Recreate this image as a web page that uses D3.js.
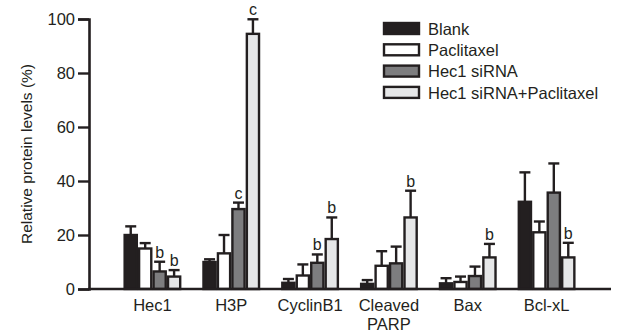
<!DOCTYPE html>
<html lang="en">
<head>
<meta charset="utf-8">
<title>Relative protein levels</title>
<script src="https://cdnjs.cloudflare.com/ajax/libs/d3/7.8.5/d3.min.js"></script>
<style>
  body { margin: 0; background: #fff; }
  text { font-family: "Liberation Sans", Arial, sans-serif; fill: #231f20; }
</style>
</head>
<body>
<script>
// proteins on the x axis (second line of label after "|")
var categories = ["Hec1", "H3P", "CyclinB1", "Cleaved|PARP", "Bax", "Bcl-xL"];
var groups = ["Blank", "Paclitaxel", "Hec1 siRNA", "Hec1 siRNA+Paclitaxel"];

// mean values per group, one entry per category
var blank      = [20, 10, 2.3, 1.9, 2.1, 32.3];
var paclitaxel = [15, 13.2, 5, 8.6, 2.6, 21];
var hec1si     = [6.5, 29.6, 9.7, 9.5, 4.8, 35.7];
var hec1siPac  = [4.6, 94.5, 18.5, 26.5, 11.7, 11.7];

// error (upper) per group
var blankErr      = [3.2, 1, 1.4, 1.4, 1.9, 10.9];
var paclitaxelErr = [2, 6.8, 4.1, 5.4, 2, 4];
var hec1siErr     = [3.6, 2.4, 3.1, 6.2, 3.5, 10.8];
var hec1siPacErr  = [2.4, 5.4, 8, 9.9, 5, 5.4];

// significance letters ("" = none)
var hec1siSig    = ["b", "c", "b", "", "", ""];
var hec1siPacSig = ["b", "c", "b", "b", "b", "b"];

var yTicks = [0, 20, 40, 60, 80, 100];
var colors = ["#231f20", "#ffffff", "#7d7d7f", "#e6e7e8"];

var values = [blank, paclitaxel, hec1si, hec1siPac];
var errs = [blankErr, paclitaxelErr, hec1siErr, hec1siPacErr];
var sigs = [["", "", "", "", "", ""], ["", "", "", "", "", ""], hec1siSig, hec1siPacSig];

var w = 619, h = 335;
var ink = "#231f20";

var svg = d3.select("body").append("svg")
  .attr("width", w)
  .attr("height", h);

var y = d3.scaleLinear().domain([0, 100]).range([289, 19]);
var x = d3.scaleBand().domain(categories).range([113, 586]).paddingInner(0.27).paddingOuter(0.135);
var xs = d3.scaleBand().domain(d3.range(groups.length)).range([0, x.bandwidth()]).paddingInner(0.02);

// y axis
var yAxis = svg.append("g")
  .attr("transform", "translate(89,0)")
  .call(d3.axisLeft(y).tickValues(yTicks).tickSize(11).tickPadding(3));
yAxis.select(".domain").attr("stroke", ink).attr("stroke-width", 2.6);
yAxis.selectAll(".tick line").attr("stroke", ink).attr("stroke-width", 2.4);
yAxis.selectAll(".tick text").attr("font-size", "16.5px").attr("fill", ink)
  .attr("font-family", "Liberation Sans, Arial, sans-serif");

svg.append("text")
  .attr("transform", "translate(27," + y(50) + ") rotate(-90)")
  .attr("text-anchor", "middle")
  .attr("dy", "0.35em")
  .attr("font-size", "15.5px")
  .text("Relative protein levels (%)");

// bars
categories.forEach(function(c, ci) {
  var g = svg.append("g").attr("transform", "translate(" + x(c) + ",0)");
  groups.forEach(function(gr, gi) {
    var v = values[gi][ci], e = errs[gi][ci];
    var bx = xs(gi), bw = xs.bandwidth();
    var cx = bx + bw / 2;
    // error bar
    g.append("line")
      .attr("x1", cx).attr("x2", cx)
      .attr("y1", y(v)).attr("y2", y(v + e))
      .attr("stroke", ink).attr("stroke-width", 2.4);
    g.append("line")
      .attr("x1", cx - 5.5).attr("x2", cx + 5.5)
      .attr("y1", y(v + e)).attr("y2", y(v + e))
      .attr("stroke", ink).attr("stroke-width", 2.4);
    g.append("rect")
      .attr("x", bx + 1)
      .attr("y", y(v))
      .attr("width", bw - 2)
      .attr("height", y(0) - y(v))
      .attr("fill", colors[gi])
      .attr("stroke", ink)
      .attr("stroke-width", 2.4);
    if (sigs[gi][ci]) {
      g.append("text")
        .attr("x", cx)
        .attr("y", y(v + e) - 4)
        .attr("text-anchor", "middle")
        .attr("font-size", "16px")
        .text(sigs[gi][ci]);
    }
  });
});

// x axis baseline
svg.append("line")
  .attr("x1", 88).attr("x2", 611)
  .attr("y1", y(0)).attr("y2", y(0))
  .attr("stroke", ink).attr("stroke-width", 2.6);

// category labels
categories.forEach(function(c) {
  var parts = c.split("|");
  var t = svg.append("text")
    .attr("text-anchor", "middle")
    .attr("font-size", "16.5px");
  parts.forEach(function(p, i) {
    t.append("tspan")
      .attr("x", x(c) + x.bandwidth() / 2)
      .attr("y", 311 + i * 19)
      .text(p);
  });
});

// legend
var leg = svg.append("g").attr("transform", "translate(384,23)");
groups.forEach(function(gr, i) {
  var row = leg.append("g").attr("transform", "translate(0," + i * 21.3 + ")");
  row.append("rect")
    .attr("x", 0).attr("y", 0)
    .attr("width", 35).attr("height", 11)
    .attr("fill", colors[i])
    .attr("stroke", ink).attr("stroke-width", 2.4);
  row.append("text")
    .attr("x", 44).attr("y", 6)
    .attr("dy", "0.35em")
    .attr("font-size", "16.5px")
    .text(gr);
});
</script>
</body>
</html>
